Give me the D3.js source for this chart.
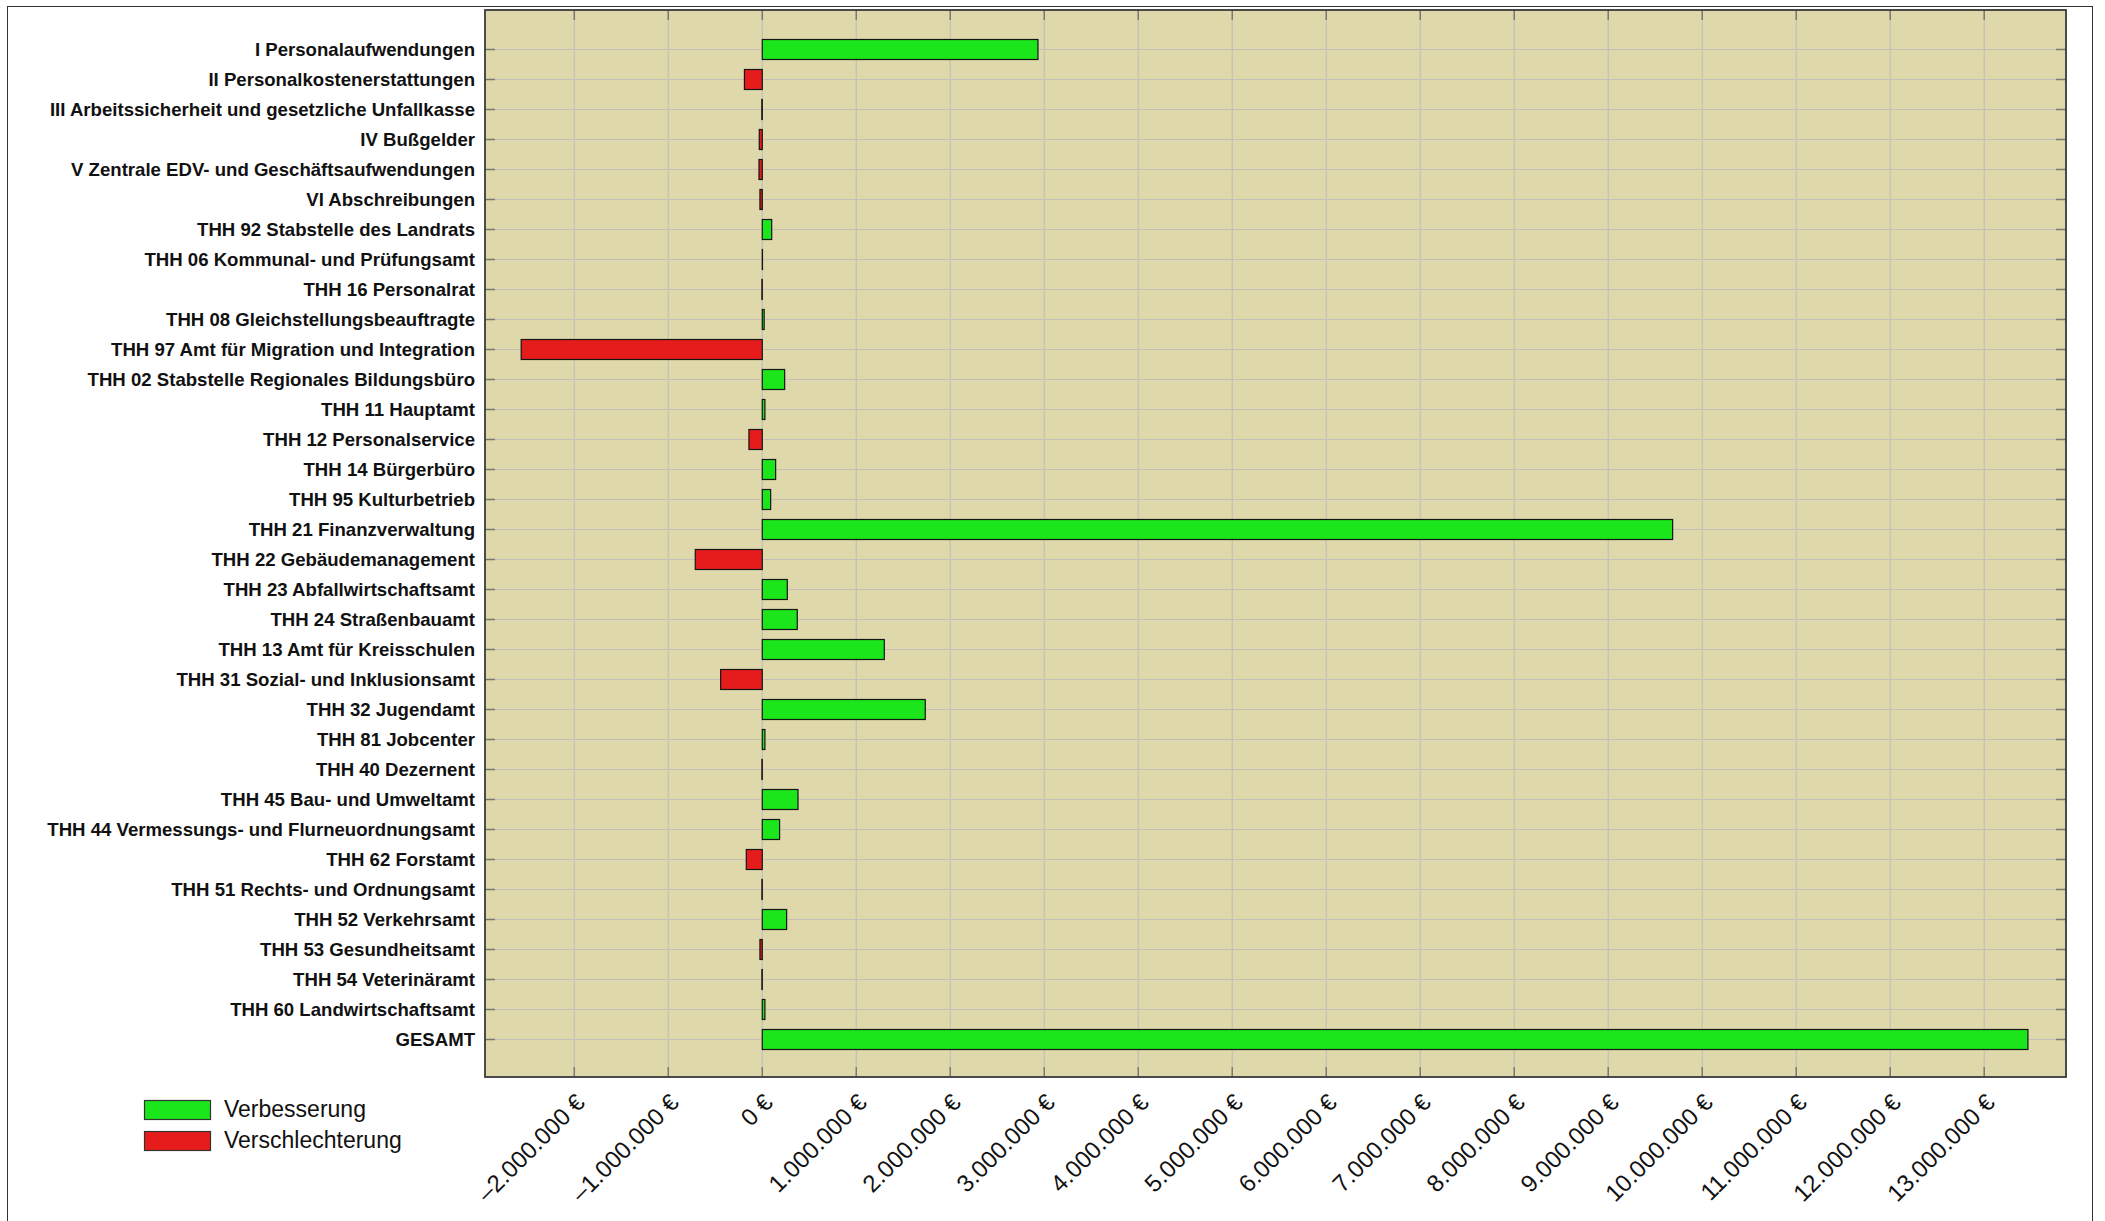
<!DOCTYPE html>
<html>
<head>
<meta charset="utf-8">
<script src="https://cdn.jsdelivr.net/npm/d3@7"></script>
<style>
  html, body { margin: 0; padding: 0; background: #fff; }
  svg { display: block; }
</style>
</head>
<body>
<svg id="chart" width="2105" height="1221"></svg>
<script>
// ---- data ----
const categories = [
  "I Personalaufwendungen",
  "II Personalkostenerstattungen",
  "III Arbeitssicherheit und gesetzliche Unfallkasse",
  "IV Bußgelder",
  "V Zentrale EDV- und Geschäftsaufwendungen",
  "VI Abschreibungen",
  "THH 92 Stabstelle des Landrats",
  "THH 06 Kommunal- und Prüfungsamt",
  "THH 16 Personalrat",
  "THH 08 Gleichstellungsbeauftragte",
  "THH 97 Amt für Migration und Integration",
  "THH 02 Stabstelle Regionales Bildungsbüro",
  "THH 11 Hauptamt",
  "THH 12 Personalservice",
  "THH 14 Bürgerbüro",
  "THH 95 Kulturbetrieb",
  "THH 21 Finanzverwaltung",
  "THH 22 Gebäudemanagement",
  "THH 23 Abfallwirtschaftsamt",
  "THH 24 Straßenbauamt",
  "THH 13 Amt für Kreisschulen",
  "THH 31 Sozial- und Inklusionsamt",
  "THH 32 Jugendamt",
  "THH 81 Jobcenter",
  "THH 40 Dezernent",
  "THH 45 Bau- und Umweltamt",
  "THH 44 Vermessungs- und Flurneuordnungsamt",
  "THH 62 Forstamt",
  "THH 51 Rechts- und Ordnungsamt",
  "THH 52 Verkehrsamt",
  "THH 53 Gesundheitsamt",
  "THH 54 Veterinäramt",
  "THH 60 Landwirtschaftsamt",
  "GESAMT"
];
const values = [
  2933000, -190000, -5000, -32000, -35000, -25000, 100000, 2000, -4000, 20000,
  -2565000, 238000, 28000, -142000, 142000, 89000, 9685000, -713000, 266000, 372000,
  1298000, -443000, 1734000, 28000, -4000, 380000, 184000, -170000, -4000, 259000,
  -25000, -4000, 28000, 13465000
];
const xTickValues = [-2000000, -1000000, 0, 1000000, 2000000, 3000000, 4000000, 5000000,
  6000000, 7000000, 8000000, 9000000, 10000000, 11000000, 12000000, 13000000];
const xDomain = [-2950000, 13870000];
const legendLabels = ["Verbesserung", "Verschlechterung"];

// ---- styles ----
const GREEN = "#1be61b", RED = "#e61b1b";
const plot = { left: 485, right: 2066, top: 10, bottom: 1077 };

const de = d3.formatLocale({ decimal: ",", thousands: ".", grouping: [3], currency: ["", " €"], minus: "–" });
const fmt = v => de.format(",.0f")(v) + " €";

const svg = d3.select("#chart");

// outer frame
svg.append("rect").attr("x", 7.5).attr("y", 6.5).attr("width", 2085).attr("height", 1240)
  .attr("fill", "none").attr("stroke", "#333").attr("stroke-width", 1);

const x = d3.scaleLinear().domain(xDomain).range([plot.left, plot.right]);
const y = d3.scalePoint().domain(categories).range([49.5, 1039.5]);

// plot background
svg.append("rect").attr("x", plot.left).attr("y", plot.top)
  .attr("width", plot.right - plot.left).attr("height", plot.bottom - plot.top)
  .attr("fill", "#ded8aa");

// vertical grid
svg.append("g").selectAll("line").data(xTickValues).join("line")
  .attr("x1", d => x(d)).attr("x2", d => x(d))
  .attr("y1", plot.top).attr("y2", plot.bottom)
  .attr("stroke", "#c2c0b8").attr("stroke-width", 1.2);

// horizontal grid
svg.append("g").selectAll("line").data(categories).join("line")
  .attr("x1", plot.left).attr("x2", plot.right)
  .attr("y1", d => y(d)).attr("y2", d => y(d))
  .attr("stroke", "#c2c0b8").attr("stroke-width", 1.2);

// bars
const barH = 20;
svg.append("g").selectAll("rect").data(categories.map((c, i) => ({ c, v: values[i] }))).join("rect")
  .attr("x", d => Math.min(x(0), x(d.v)))
  .attr("y", d => y(d.c) - barH / 2)
  .attr("width", d => Math.abs(x(d.v) - x(0)))
  .attr("height", barH)
  .attr("fill", d => d.v >= 0 ? GREEN : RED)
  .attr("stroke", "#151515").attr("stroke-width", 1.2);

// inner ticks (all four sides)
const tk = svg.append("g").attr("stroke", "#7a7a72").attr("stroke-width", 1.5);
xTickValues.forEach(v => {
  tk.append("line").attr("x1", x(v)).attr("x2", x(v)).attr("y1", plot.top).attr("y2", plot.top + 10);
  tk.append("line").attr("x1", x(v)).attr("x2", x(v)).attr("y1", plot.bottom).attr("y2", plot.bottom - 10);
});
categories.forEach(c => {
  tk.append("line").attr("x1", plot.left).attr("x2", plot.left + 10).attr("y1", y(c)).attr("y2", y(c));
  tk.append("line").attr("x1", plot.right).attr("x2", plot.right - 10).attr("y1", y(c)).attr("y2", y(c));
});

// plot border
svg.append("rect").attr("x", plot.left).attr("y", plot.top)
  .attr("width", plot.right - plot.left).attr("height", plot.bottom - plot.top)
  .attr("fill", "none").attr("stroke", "#3a3a3a").attr("stroke-width", 1.8);

// y labels
svg.append("g").selectAll("text").data(categories).join("text")
  .attr("x", 475).attr("y", d => y(d) + 6)
  .attr("text-anchor", "end")
  .attr("font-family", "'Liberation Sans', Arial, sans-serif")
  .attr("font-weight", "bold").attr("font-size", 18.6).attr("fill", "#111")
  .text(d => d);

// x tick labels (rotated)
svg.append("g").selectAll("text").data(xTickValues).join("text")
  .attr("transform", d => `translate(${x(d) + 12},${plot.bottom + 27}) rotate(-45)`)
  .attr("text-anchor", "end")
  .attr("font-family", "'Liberation Sans', Arial, sans-serif")
  .attr("font-size", 24).attr("fill", "#111")
  .text(d => fmt(d));

// legend
const lg = svg.append("g");
[GREEN, RED].forEach((col, i) => {
  lg.append("rect").attr("x", 144.5).attr("y", 1100.5 + i * 31).attr("width", 66).attr("height", 19)
    .attr("fill", col).attr("stroke", "#333").attr("stroke-width", 1.2);
  lg.append("text").attr("x", 224).attr("y", 1117 + i * 31)
    .attr("font-family", "'Liberation Sans', Arial, sans-serif")
    .attr("font-size", 23).attr("fill", "#111")
    .text(legendLabels[i]);
});
</script>
</body>
</html>
